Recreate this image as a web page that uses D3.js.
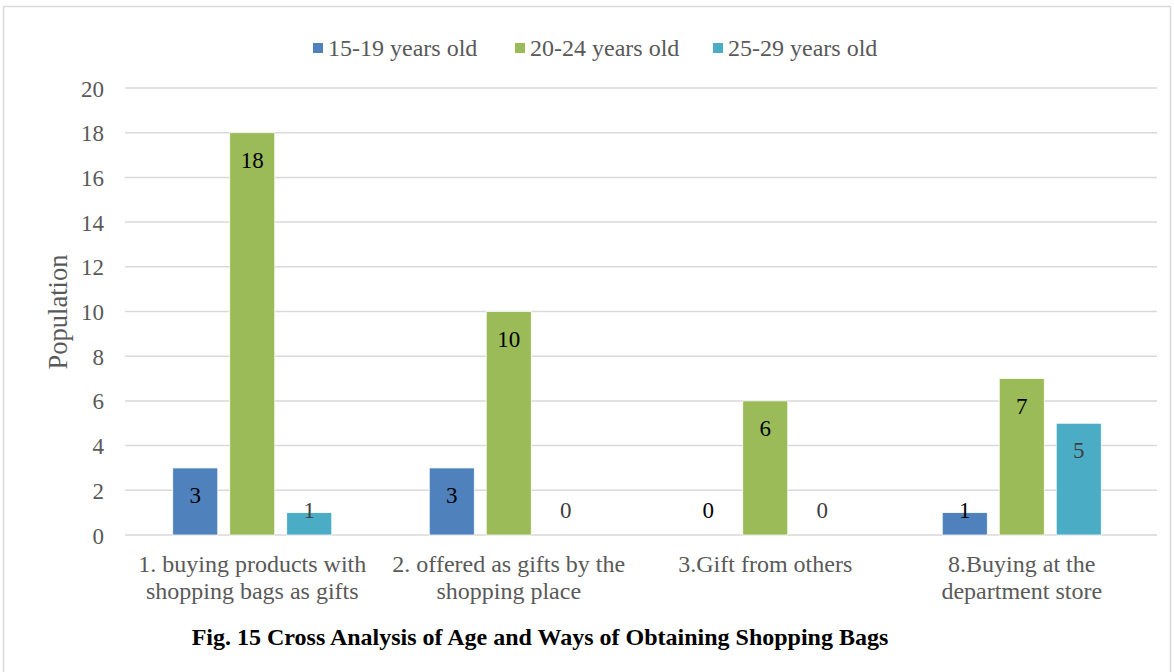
<!DOCTYPE html>
<html><head><meta charset="utf-8">
<script src="https://cdn.jsdelivr.net/npm/d3@7"></script>
<style>body{margin:0;background:#fff}svg{display:block}</style>
</head><body><svg id="c" width="1174" height="672"></svg>
<script>
const categories = [
  ["1. buying products with", "shopping bags as gifts"],
  ["2. offered as gifts by the", "shopping place"],
  ["3.Gift from others"],
  ["8.Buying at the", "department store"]
];
const seriesNames = ["15-19 years old", "20-24 years old", "25-29 years old"];
const s1519 = [3, 3, 0, 1];
const s2024 = [18, 10, 6, 7];
const s2529 = [1, 0, 0, 5];
const yTicks = [0, 2, 4, 6, 8, 10, 12, 14, 16, 18, 20];
const colors = ["#4F81BD", "#9BBB59", "#4BACC6"];
const labelColors = ["#000", "#000", "#404040"];
const title = "Fig. 15 Cross Analysis of Age and Ways of Obtaining Shopping Bags";

(function () {
const series = [s1519, s2024, s2529];
const svg = d3.select("#c");
const font = "'Liberation Serif','Times New Roman',serif";

svg.append("rect").attr("x", 3.5).attr("y", 6.5).attr("width", 1167).attr("height", 680)
  .attr("fill", "#fff").attr("stroke", "#D9D9D9").attr("stroke-width", 1.5);

const pL = 125, pR = 1157, pT = 88, pB = 535;
const y = d3.scaleLinear().domain([0, 20]).range([pB, pT]);
const x0 = d3.scaleBand().domain(d3.range(categories.length)).range([124, 1150]).paddingInner(0).paddingOuter(0);
const groupW = 159;
const x1 = d3.scaleBand().domain(d3.range(series.length)).range([(x0.bandwidth() - groupW) / 2, (x0.bandwidth() + groupW) / 2]).paddingInner(0.21);

svg.append("g").selectAll("line").data(yTicks).join("line")
  .attr("x1", pL).attr("x2", pR)
  .attr("y1", d => y(d)).attr("y2", d => y(d))
  .attr("stroke", "#D9D9D9").attr("stroke-width", 1.5);

const yAxis = d3.axisLeft(y).tickValues(yTicks).tickSize(0).tickPadding(0);
const ya = svg.append("g").attr("transform", `translate(${pL - 21},0)`).call(yAxis);
ya.select(".domain").remove();
ya.selectAll("text").attr("font-family", font).attr("font-size", 23).attr("fill", "#595959").attr("dy", "0.35em");

svg.append("text").attr("transform", "translate(67,312) rotate(-90)")
  .attr("text-anchor", "middle").attr("font-family", font).attr("font-size", 26.5).attr("fill", "#595959")
  .text("Population");

const groups = svg.append("g").selectAll("g").data(categories).join("g")
  .attr("transform", (d, i) => `translate(${x0(i)},0)`);
groups.each(function (c, ci) {
  const g = d3.select(this);
  series.forEach((s, si) => {
    const v = s[ci];
    if (v > 0) {
      g.append("rect").attr("x", x1(si)).attr("width", x1.bandwidth())
        .attr("y", y(v)).attr("height", y(0) - y(v)).attr("fill", colors[si])
        .attr("stroke", "#fff").attr("stroke-width", 0.75);
    }
    g.append("text").attr("x", x1(si) + x1.bandwidth() / 2)
      .attr("y", Math.min(y(v) + 27, y(0) - 25)).attr("dy", "0.35em")
      .attr("text-anchor", "middle").attr("font-family", font).attr("font-size", 23).attr("fill", labelColors[si])
      .text(v);
  });
  const t = g.append("text").attr("text-anchor", "middle").attr("font-family", font)
    .attr("font-size", 24).attr("fill", "#595959");
  c.forEach((line, li) => {
    t.append("tspan").attr("x", x0.bandwidth() / 2).attr("y", 572 + li * 27).text(line);
  });
});

const legX = [313, 515, 713];
const leg = svg.append("g").selectAll("g").data(seriesNames).join("g")
  .attr("transform", (d, i) => `translate(${legX[i]},0)`);
leg.append("rect").attr("x", 0).attr("y", 43).attr("width", 10).attr("height", 10).attr("fill", (d, i) => colors[i]);
leg.append("text").attr("x", 15).attr("y", 48).attr("dy", "0.35em").attr("font-family", font)
  .attr("font-size", 24).attr("fill", "#595959").text(d => d);

svg.append("text").attr("x", 540).attr("y", 645).attr("text-anchor", "middle")
  .attr("font-family", font).attr("font-size", 24).attr("font-weight", "bold").attr("fill", "#000")
  .text(title);
})();
</script></body></html>
